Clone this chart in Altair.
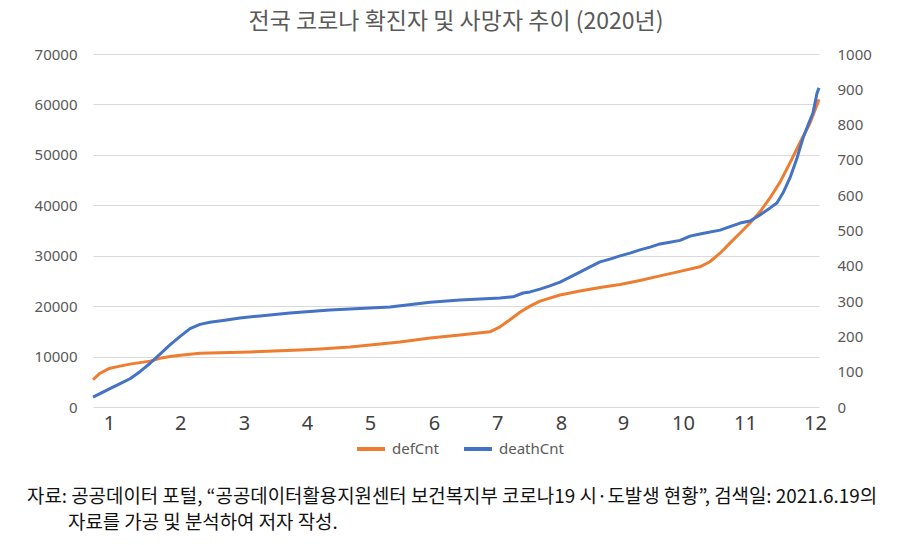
import altair as alt
import pandas as pd

# ---- data ----
def_day = [0, 2.9, 7, 11.2, 15.3, 23.6, 27.7, 31.8, 36, 44.2, 52.5, 64.9, 77.3, 85.5, 93.8,
           106.2, 114.5, 126.9, 139.3, 151.7, 164, 168.2, 172.3, 176.4, 180.6, 184.7, 193,
           201.2, 209.5, 217.8, 226, 234.3, 242.6, 250.8, 254.9, 259.1, 263.2, 267.4, 271.5,
           275.6, 279.8, 283.9, 288, 292.1, 296.3, 300]
def_cnt = [5400, 6700, 7700, 8100, 8500, 9100, 9650, 10000, 10250, 10650, 10780, 10900, 11150,
           11300, 11500, 11900, 12300, 12900, 13700, 14300, 14900, 15900, 17300, 18800, 20000,
           21000, 22200, 23000, 23700, 24300, 25100, 26000, 26900, 27800, 28800, 30500, 32500,
           34500, 36500, 38700, 41500, 44600, 48400, 52400, 56300, 61000]

death_day = [0, 2.9, 7, 11.2, 15.3, 19.4, 23.6, 27.7, 31.8, 36, 40.1, 44.2, 48.3, 54.5, 60.7,
             69, 81.4, 97.9, 122.7, 139.3, 151.7, 168.2, 173.6, 177.7, 180.6, 184.7, 188.8,
             193, 197.1, 201.2, 205.4, 209.5, 213.6, 217.8, 221.9, 226, 230.2, 234.3, 238.4,
             242.6, 246.7, 250.8, 259.1, 267.4, 271.5, 275.6, 279.8, 282.6, 285.1, 288, 290.9,
             293.4, 296.3, 297.5, 299.2, 300]
death_cnt = [28, 38, 52, 66, 80, 100, 124, 150, 176, 200, 222, 234, 240, 246, 252, 258, 266,
             275, 283, 297, 303, 309, 312, 323, 326, 334, 343, 354, 368, 382, 397, 411, 419,
             428, 436, 445, 453, 462, 467, 472, 484, 490, 501, 521, 527, 544, 564, 578, 606,
             649, 705, 762, 813, 833, 890, 904]

month_ticks = [6.6, 36, 62.4, 88.4, 114.5, 140.9, 167, 193.4, 219, 243.8, 269.4, 298.3]
month_labels = ["1", "2", "3", "4", "5", "6", "7", "8", "9", "10", "11", "12"]

left_ticks = [0, 10000, 20000, 30000, 40000, 50000, 60000, 70000]
right_ticks = [0, 100, 200, 300, 400, 500, 600, 700, 800, 900, 1000]

series_names = ["defCnt", "deathCnt"]
series_colors = ["#ED7D31", "#4472C4"]

title_text = "전국 코로나 확진자 및 사망자 추이 (2020년)"
footnote_lines = [
    "자료: 공공데이터 포털, “공공데이터활용지원센터 보건복지부 코로나19 시·도발생 현황”, 검색일: 2021.6.19의",
    "자료를 가공 및 분석하여 저자 작성.",
]

# ---- build tables ----
df_def = pd.DataFrame({"day": def_day, "value": def_cnt, "series": series_names[0]})
df_death = pd.DataFrame({"day": death_day, "value": death_cnt, "series": series_names[1]})

W, H = 726, 353
label_expr = "[" + ",".join("'%s'" % m for m in month_labels) + "][indexof([" + \
    ",".join(str(t) for t in month_ticks) + "], datum.value)]"

x_enc = alt.X("day:Q",
              scale=alt.Scale(domain=[0, 300], nice=False, zero=False),
              axis=alt.Axis(values=month_ticks, labelExpr=label_expr, title=None,
                            domain=False, ticks=False, grid=False,
                            labelFontSize=20, labelColor="#404040", labelPadding=6,
                            labelFont="Noto Sans", labelFlush=False))

color_enc = alt.Color("series:N",
                      scale=alt.Scale(domain=series_names, range=series_colors),
                      legend=alt.Legend(title=None, orient="none", direction="horizontal",
                                        legendX=262, legendY=379,
                                        symbolType="stroke", symbolSize=784,
                                        symbolStrokeWidth=4, labelFontSize=15,
                                        labelColor="#595959", labelFont="Noto Sans",
                                        labelOffset=5, columnPadding=16))

line_def = alt.Chart(df_def).mark_line(strokeWidth=3, strokeJoin="round").encode(
    x=x_enc,
    y=alt.Y("value:Q",
            scale=alt.Scale(domain=[0, 70000], nice=False),
            axis=alt.Axis(values=left_ticks, format="d", title=None, orient="left",
                          domain=False, ticks=False, grid=True, gridColor="#d9d9d9",
                          labelFontSize=15, labelColor="#595959", labelPadding=16,
                          labelFont="Noto Sans")),
    color=color_enc,
)

line_death = alt.Chart(df_death).mark_line(strokeWidth=3, strokeJoin="round").encode(
    x=x_enc,
    y=alt.Y("value:Q",
            scale=alt.Scale(domain=[0, 1000], nice=False),
            axis=alt.Axis(values=right_ticks, format="d", title=None, orient="right",
                          domain=False, ticks=False, grid=False,
                          labelFontSize=15, labelColor="#595959", labelPadding=18,
                          labelFont="Noto Sans")),
    color=color_enc,
)

df_title = pd.DataFrame({"text": [title_text], "xo": [W / 2], "yo": [-32]})
title_mark = alt.Chart(df_title).mark_text(align="center", baseline="middle", fontSize=23,
                                           font="Noto Sans CJK KR", color="#595959").encode(
    x=alt.X("xo:Q", scale=None),
    y=alt.Y("yo:Q", scale=None),
    text="text:N",
)

df_note = pd.DataFrame({"text": footnote_lines, "xo": [-66, -25], "yo": [443, 469]})
note = alt.Chart(df_note).mark_text(align="left", baseline="middle", fontSize=18.9,
                                    font="Noto Sans CJK KR", color="#111111").encode(
    x=alt.X("xo:Q", scale=None),
    y=alt.Y("yo:Q", scale=None),
    text="text:N",
)

chart = alt.layer(line_def, line_death, title_mark, note).resolve_scale(y="independent").properties(
    width=W, height=H,
    autosize=alt.AutoSizeParams(type="none"),
    padding={"left": 85, "top": 46, "right": 73, "bottom": 130},
).configure_view(stroke=None)

chart.save("out.html", embed_options={"renderer": "svg", "actions": False})
